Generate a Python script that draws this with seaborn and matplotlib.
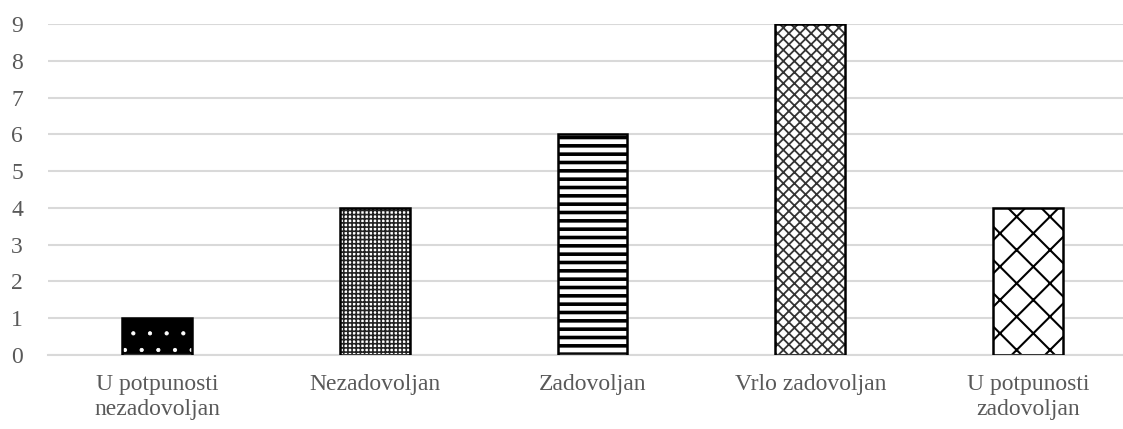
import matplotlib
matplotlib.use("Agg")
import matplotlib.pyplot as plt
import seaborn as sns
import pandas as pd

categories = ["U potpunosti\nnezadovoljan", "Nezadovoljan", "Zadovoljan",
              "Vrlo zadovoljan", "U potpunosti\nzadovoljan"]
values = [1, 4, 6, 9, 4]
yticks = [0, 1, 2, 3, 4, 5, 6, 7, 8, 9]

hatches = [".", "++++", "--", "xxx", "x"]
faces = ["black", "white", "white", "white", "white"]
hatch_colors = ["white", "#222222", "black", "#333333", "black"]
hatch_widths = [0.6, 1.2, 2.6, 1.3, 1.5]

sns.set_theme(style="white")
plt.rcParams["font.family"] = ["Liberation Serif", "DejaVu Serif"]
plt.rcParams["hatch.linewidth"] = 1.5

df = pd.DataFrame({"cat": categories, "val": values})

W, H = 1123, 429
fig = plt.figure(figsize=(W / 100, H / 100), dpi=100)
left, right = 48, 1137
bottom, top = 355, 24
ax = fig.add_axes([left / W, 1 - bottom / H, (right - left) / W, (bottom - top) / H])

# hatched fill layer
sns.barplot(data=df, x="cat", y="val", ax=ax, width=0.32, color="white",
            linewidth=0, saturation=1, zorder=2)
for p, h, fc, hc, hw in zip(ax.patches, hatches, faces, hatch_colors, hatch_widths):
    p.set_facecolor(fc)
    p.set_edgecolor(hc)
    p.set_hatch(h)
    p.set_linewidth(0)
    if hasattr(p, "set_hatch_linewidth"):
        p.set_hatch_linewidth(hw)
    else:
        p._hatch_linewidth = hw
# outline layer
sns.barplot(data=df, x="cat", y="val", ax=ax, width=0.32, fill=False,
            edgecolor="black", linewidth=1.8, saturation=1, zorder=3)

ax.set_ylim(0, 9)
ax.set_xlim(-0.5, 4.5)
ax.set_yticks(yticks)
ax.set_yticklabels([str(t) for t in yticks])
ax.yaxis.grid(True, color="#d9d9d9", linewidth=1.5, zorder=0)
ax.set_axisbelow(True)
for s in ["top", "right", "left"]:
    ax.spines[s].set_visible(False)
ax.spines["bottom"].set_color("#d9d9d9")
ax.spines["bottom"].set_linewidth(1.5)
ax.tick_params(axis="both", length=0, labelsize=17, labelcolor="#595959")
ax.tick_params(axis="y", pad=18)
ax.tick_params(axis="x", pad=14)
for lbl in ax.get_xticklabels():
    lbl.set_linespacing(1.2)
ax.set_xlabel("")
ax.set_ylabel("")

fig.savefig("out.png", dpi=100)
